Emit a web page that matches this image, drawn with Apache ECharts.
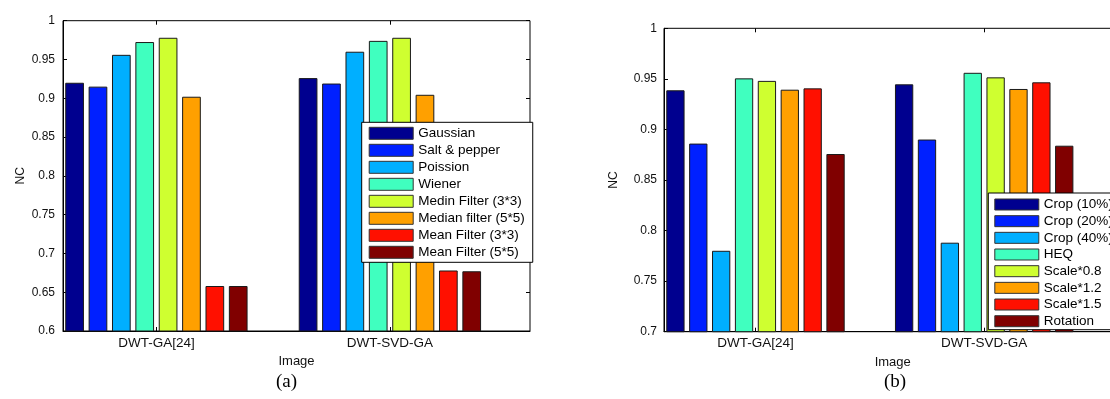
<!DOCTYPE html>
<html>
<head>
<meta charset="utf-8">
<script src="https://cdn.jsdelivr.net/npm/echarts@6/dist/echarts.min.js"></script>
<style>
html,body{margin:0;padding:0;background:#fff;}
#c{width:1110px;height:399px;}
</style>
</head>
<body>
<div id="c"></div>
<script>
// ---- data ----
const categories = ['DWT-GA[24]', 'DWT-SVD-GA'];

const noiseNames = ['Gaussian', 'Salt & pepper', 'Poission', 'Wiener',
  'Medin Filter (3*3)', 'Median filter (5*5)', 'Mean Filter (3*3)', 'Mean Filter (5*5)'];
const gaussian   = [0.920, 0.926];
const saltPepper = [0.915, 0.919];
const poission   = [0.956, 0.960];
const wiener     = [0.9725, 0.974];
const medin33    = [0.978, 0.978];
const median55   = [0.902, 0.9045];
const mean33     = [0.658, 0.678];
const mean55     = [0.658, 0.677];

const geoNames = ['Crop (10%)', 'Crop (20%)', 'Crop (40%)', 'HEQ',
  'Scale*0.8', 'Scale*1.2', 'Scale*1.5', 'Rotation'];
const crop10   = [0.9387, 0.9446];
const crop20   = [0.886, 0.890];
const crop40   = [0.780, 0.788];
const heq      = [0.9505, 0.956];
const scale08  = [0.948, 0.9515];
const scale12  = [0.9393, 0.940];
const scale15  = [0.9406, 0.9466];
const rotation = [0.8757, 0.8839];

const jetColors = ['#00008F', '#0020FF', '#00AFFF', '#40FFBF', '#CFFF30', '#FFA000', '#FF1000', '#800000'];

// ---- chart ----
const FONT = 'Liberation Sans, Arial, sans-serif';
const chart = echarts.init(document.getElementById('c'), null, {renderer: 'canvas'});

const noiseSeries = [gaussian, saltPepper, poission, wiener, medin33, median55, mean33, mean55];
const geoSeries = [crop10, crop20, crop40, heq, scale08, scale12, scale15, rotation];

function makeSeries(names, valuesList, gridIdx, barWidth) {
  return names.map((n, i) => ({
    type: 'bar',
    name: n,
    xAxisIndex: gridIdx * 2,
    yAxisIndex: gridIdx * 2,
    data: categories.map((c, j) => [j + 1, valuesList[i][j]]),
    barWidth: barWidth,
    barGap: '25%',
    clip: true,
    itemStyle: {color: jetColors[i], borderColor: '#1a1a1a', borderWidth: 1},
    emphasis: {disabled: true},
    animation: false
  }));
}

function xAxes(gridIdx, nameGap) {
  const common = {
    gridIndex: gridIdx, type: 'value', min: 0.6, max: 2.6,
    splitLine: {show: false}
  };
  return [
    Object.assign({}, common, {
      position: 'bottom',
      axisLine: {show: true, onZero: false, lineStyle: {color: '#000', width: 1}},
      axisTick: {show: true, inside: true, length: 4, customValues: [1, 2], lineStyle: {color: '#000'}},
      axisLabel: {show: true, customValues: [1, 2], formatter: v => categories[Math.round(v) - 1] || '',
        fontSize: 13.5, fontFamily: FONT, color: '#111', margin: 5},
      name: 'Image', nameLocation: 'middle', nameGap: nameGap,
      nameTextStyle: {fontSize: 13, fontFamily: FONT, color: '#111'}
    }),
    Object.assign({}, common, {
      position: 'top',
      axisLine: {show: false, onZero: false},
      axisTick: {show: true, inside: true, length: 4, customValues: [1, 2], lineStyle: {color: '#000'}},
      axisLabel: {show: false}
    })
  ];
}

function yAxes(gridIdx, min, nameGap, labelMargin) {
  const common = {
    gridIndex: gridIdx, type: 'value', min: min, max: 1, interval: 0.05,
    splitLine: {show: false}
  };
  return [
    Object.assign({}, common, {
      position: 'left',
      axisLine: {show: true, onZero: false, lineStyle: {color: '#000', width: 1}},
      axisTick: {show: true, inside: true, length: 4, lineStyle: {color: '#000'}},
      axisLabel: {show: true, fontSize: 12, fontFamily: FONT, color: '#111', margin: labelMargin},
      name: 'NC', nameLocation: 'middle', nameGap: nameGap, nameRotate: 90,
      nameTextStyle: {fontSize: 12, fontFamily: FONT, color: '#111'}
    }),
    Object.assign({}, common, {
      position: 'right',
      axisLine: {show: false, onZero: false},
      axisTick: {show: true, inside: true, length: 4, lineStyle: {color: '#000'}},
      axisLabel: {show: false}
    })
  ];
}

function legendOf(names, left, top, padding, itemHeight, itemGap, lineHeight) {
  return {
    data: names, orient: 'vertical', left: left, top: top,
    padding: padding, itemWidth: 44, itemHeight: itemHeight, itemGap: itemGap,
    icon: 'rect', selectedMode: false,
    backgroundColor: '#fff', borderColor: '#000', borderWidth: 1, borderRadius: 0,
    itemStyle: {borderColor: '#333', borderWidth: 1},
    textStyle: {fontSize: 13.5, lineHeight: lineHeight, fontFamily: FONT, color: '#000'}
  };
}

const option = {
  backgroundColor: '#fff',
  animation: false,
  grid: [
    {left: 63, top: 20.7, width: 467, height: 310.3, show: true, borderColor: '#000', borderWidth: 1,
      backgroundColor: '#fff', containLabel: false, outerBoundsMode: 'none'},
    {left: 664, top: 28.3, width: 457.4, height: 303.4, show: true, borderColor: '#000', borderWidth: 1,
      backgroundColor: '#fff', containLabel: false, outerBoundsMode: 'none'}
  ],
  xAxis: [].concat(xAxes(0, 17.5), xAxes(1, 18.5)),
  yAxis: [].concat(yAxes(0, 0.6, 36, 8), yAxes(1, 0.7, 44, 7)),
  legend: [
    legendOf(noiseNames, 361.7, 122.3, [4, 8, 3, 7], 12, 3, 13),
    legendOf(geoNames, 988.3, 193, [4.5, 8, 1.5, 6], 11, 2.67, 12)
  ],
  series: [].concat(
    makeSeries(noiseNames, noiseSeries, 0, 18.7),
    makeSeries(geoNames, geoSeries, 1, 18.3)
  ),
  graphic: [
    {type: 'text', left: 287 - 11, top: 373, style: {text: '(a)', font: '19px "Liberation Serif", "Times New Roman", serif', fill: '#000'}},
    {type: 'text', left: 895 - 11, top: 373, style: {text: '(b)', font: '19px "Liberation Serif", "Times New Roman", serif', fill: '#000'}}
  ]
};
chart.setOption(option);
</script>
</body>
</html>
